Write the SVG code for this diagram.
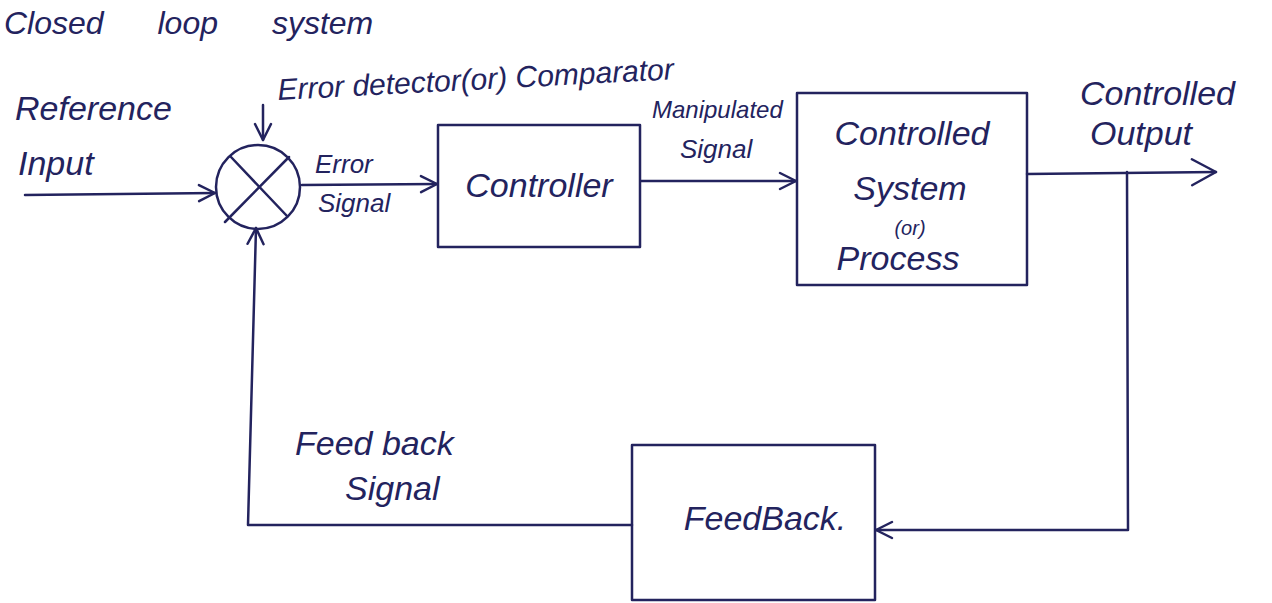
<svg xmlns="http://www.w3.org/2000/svg" width="1272" height="603" viewBox="0 0 1272 603">
<style>
.ln{fill:none;stroke:#23235e;stroke-width:2.5;stroke-linecap:round;stroke-linejoin:round}
.t{font-family:"Liberation Sans",Arial,sans-serif;fill:#23235e;font-style:italic}
.big{font-size:34px}
.mid{font-size:30px}
.sm{font-size:26px}
</style>
<defs>
<marker id="ah" viewBox="0 0 20 20" refX="18" refY="10" markerWidth="20" markerHeight="20" markerUnits="userSpaceOnUse" orient="auto">
<path d="M2,2 L18,10 L2,18" fill="none" stroke="#23235e" stroke-width="2.5" stroke-linecap="round" stroke-linejoin="round"/>
</marker>
<marker id="ahb" viewBox="0 0 30 30" refX="27" refY="15" markerWidth="30" markerHeight="30" markerUnits="userSpaceOnUse" orient="auto">
<path d="M3,2 L27,15 L3,28" fill="none" stroke="#23235e" stroke-width="2.5" stroke-linecap="round" stroke-linejoin="round"/>
</marker>
</defs>
<rect width="1272" height="603" fill="#ffffff"/>
<g id="title">
<text class="t" font-size="32" word-spacing="45" x="4" y="34">Closed loop system</text>
</g>

<g id="connectors">
<line class="ln" x1="25" y1="195" x2="215" y2="193" marker-end="url(#ah)"/>
<line class="ln" x1="263" y1="105" x2="263" y2="140" marker-end="url(#ah)"/>
<line class="ln" x1="302" y1="185" x2="437" y2="184" marker-end="url(#ah)"/>
<line class="ln" x1="641" y1="181" x2="796" y2="181" marker-end="url(#ah)"/>
<line class="ln" x1="1027" y1="174" x2="1216" y2="172" marker-end="url(#ahb)"/>
<polyline class="ln" points="1127,172 1128,530 876,530" marker-end="url(#ah)"/>
<polyline class="ln" points="632,525 248,525 256,228" marker-end="url(#ah)"/>
</g>

<g id="comparator">
<circle class="ln" cx="258" cy="187" r="42"/>
<line class="ln" x1="231" y1="157" x2="287" y2="216"/>
<line class="ln" x1="289" y1="157" x2="225" y2="222"/>
</g>
<g id="comparator-label">
<text class="t mid" x="278" y="100" transform="rotate(-3 278 100)">Error detector(or) Comparator</text>
</g>
<g id="reference-input">
<text class="t big" x="15" y="120">Reference</text>
<text class="t big" x="18" y="175">Input</text>
</g>
<g id="error-signal">
<text class="t sm" x="315" y="173">Error</text>
<text class="t sm" x="318" y="212">Signal</text>
</g>
<g id="controller">
<rect class="ln" x="438" y="125" width="202" height="122"/>
<text class="t big" x="539" y="197" text-anchor="middle">Controller</text>
</g>
<g id="manipulated-signal">
<text class="t" font-size="24" x="652" y="118">Manipulated</text>
<text class="t sm" x="680" y="158">Signal</text>
</g>
<g id="controlled-system">
<rect class="ln" x="797" y="93" width="230" height="192"/>
<text class="t big" x="912" y="145" text-anchor="middle">Controlled</text>
<text class="t big" x="910" y="200" text-anchor="middle">System</text>
<text class="t" font-size="20" x="910" y="235" text-anchor="middle">(or)</text>
<text class="t big" x="898" y="270" text-anchor="middle">Process</text>
</g>
<g id="controlled-output">
<text class="t big" x="1080" y="105">Controlled</text>
<text class="t big" x="1090" y="145">Output</text>
</g>
<g id="feedback-signal">
<text class="t big" x="295" y="455">Feed back</text>
<text class="t big" x="345" y="500">Signal</text>
</g>
<g id="feedback">
<rect class="ln" x="632" y="445" width="243" height="155"/>
<text class="t big" x="765" y="530" text-anchor="middle">FeedBack.</text>
</g>
</svg>
